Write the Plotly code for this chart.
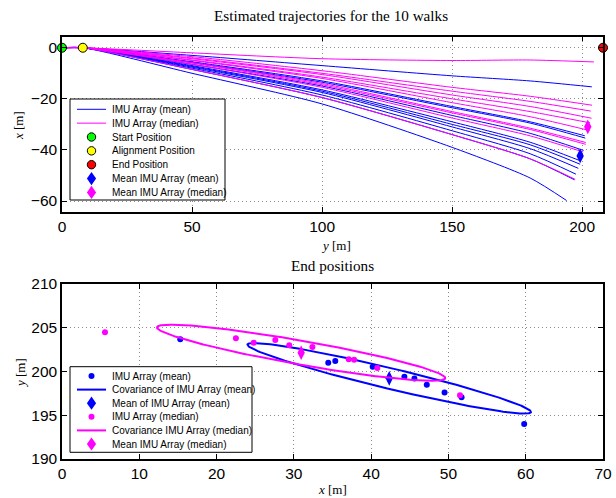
import numpy as np
import plotly.graph_objects as go

# ---------------- data ----------------
# End positions (bottom plot): x = lateral [m] (positive), y = forward [m]
mean_end_x = [15.3, 34.45, 35.36, 40.2, 44.3, 45.6, 47.2, 49.5, 51.7, 59.8]
mean_end_y = [203.7, 201.0, 201.2, 200.55, 199.4, 199.2, 198.5, 197.6, 197.05, 194.0]
median_end_x = [5.56, 22.5, 24.8, 27.6, 29.4, 32.4, 37.1, 37.8, 40.8, 51.5]
median_end_y = [204.5, 203.8, 203.3, 203.6, 203.0, 202.8, 201.4, 201.35, 200.4, 197.3]

# Trajectory waypoints (top plot): x [m] read at these y [m] positions, then the end point
way_y = [0, 8, 50, 100, 150, 180]
mean_way_x = [
    [0, 0, -3.0, -7.0, -11.0, -13.0],
    [0, 0, -5.5, -13.0, -23.0, -29.0],
    [0, 0, -5.8, -13.5, -23.5, -29.5],
    [0, 0, -6.5, -15.0, -26.5, -33.5],
    [0, 0, -7.0, -16.5, -29.0, -37.0],
    [0, 0, -7.3, -17.0, -30.0, -38.0],
    [0, 0, -7.6, -17.5, -31.0, -39.5],
    [0, 0, -8.0, -18.5, -32.5, -41.5],
    [0, 0, -8.5, -19.5, -34.0, -43.5],
    [0, 0, -10.0, -22.0, -39.0, -51.0],
]
median_way_x = [
    [0, 0, -2.0, -4.3, -5.0, -4.8],
    [0, 0, -3.5, -9.0, -15.5, -19.0],
    [0, 0, -4.0, -10.0, -17.0, -21.0],
    [0, 0, -4.3, -10.5, -18.5, -23.0],
    [0, 0, -4.8, -11.5, -20.0, -25.0],
    [0, 0, -5.0, -12.0, -21.5, -27.0],
    [0, 0, -5.8, -14.0, -25.0, -31.5],
    [0, 0, -6.0, -14.5, -25.5, -32.0],
    [0, 0, -6.5, -15.5, -27.5, -34.5],
    [0, 0, -8.5, -19.5, -34.0, -43.5],
]

start_pos = (0, 0)
align_pos = (8, 0)
end_pos = (208, 0)

top_xticks = [0, 50, 100, 150, 200]
top_yticks = [-60, -40, -20, 0]
bot_xticks = [0, 10, 20, 30, 40, 50, 60, 70]
bot_yticks = [190, 195, 200, 205, 210]

top_legend_labels = ["IMU Array (mean)", "IMU Array (median)", "Start Position",
                     "Alignment Position", "End Position", "Mean IMU Array (mean)",
                     "Mean IMU Array (median)"]
bot_legend_labels = ["IMU Array (mean)", "Covariance of IMU Array (mean)",
                     "Mean of IMU Array (mean)", "IMU Array (median)",
                     "Covariance IMU Array (median)", "Mean IMU Array (median)"]

BLUE = "#0000FF"
MAG = "#FF00FF"
GREEN = "#00FF00"
YELLOW = "#FFFF00"
RED = "#FF0000"
W, H = 616, 498
DIAMOND_SIZE = 10.5


def cov_ellipse(x, y, k=1.51, n=240):
    x = np.asarray(x, float)
    y = np.asarray(y, float)
    c = np.cov(x, y)
    w, v = np.linalg.eigh(c)
    t = np.linspace(0, 2 * np.pi, n)
    circ = np.vstack([np.cos(t), np.sin(t)])
    pts = v @ np.diag(np.sqrt(w)) @ circ * k
    return x.mean() + pts[0], y.mean() + pts[1]


fig = go.Figure()

# ---------------- top plot ----------------
for wx, ex, ey in zip(mean_way_x, mean_end_x, mean_end_y):
    fig.add_trace(go.Scatter(x=way_y + [ey], y=wx + [-ex], mode="lines",
                             line=dict(color=BLUE, width=1, shape="spline", smoothing=0.7),
                             name="IMU Array (mean)",
                             xaxis="x", yaxis="y", hoverinfo="skip"))
for wx, ex, ey in zip(median_way_x, median_end_x, median_end_y):
    fig.add_trace(go.Scatter(x=way_y + [ey], y=wx + [-ex], mode="lines",
                             line=dict(color=MAG, width=1, shape="spline", smoothing=0.7),
                             name="IMU Array (median)",
                             xaxis="x", yaxis="y", hoverinfo="skip"))

for pos, col, nm in [(start_pos, GREEN, "Start Position"),
                     (align_pos, YELLOW, "Alignment Position"),
                     (end_pos, RED, "End Position")]:
    fig.add_trace(go.Scatter(x=[pos[0]], y=[pos[1]], mode="markers", name=nm,
                             cliponaxis=False,
                             marker=dict(color=col, size=9, line=dict(color="black", width=1)),
                             xaxis="x", yaxis="y"))

fig.add_trace(go.Scatter(x=[np.mean(mean_end_y)], y=[-np.mean(mean_end_x)], mode="markers",
                         name="Mean IMU Array (mean)", cliponaxis=False,
                         marker=dict(color=BLUE, size=DIAMOND_SIZE, symbol="diamond-tall"),
                         xaxis="x", yaxis="y"))
fig.add_trace(go.Scatter(x=[np.mean(median_end_y)], y=[-np.mean(median_end_x)], mode="markers",
                         name="Mean IMU Array (median)", cliponaxis=False,
                         marker=dict(color=MAG, size=DIAMOND_SIZE, symbol="diamond-tall"),
                         xaxis="x", yaxis="y"))

# ---------------- bottom plot ----------------
ex_m, ey_m = cov_ellipse(mean_end_x, mean_end_y)
ex_d, ey_d = cov_ellipse(median_end_x, median_end_y)

fig.add_trace(go.Scatter(x=mean_end_x, y=mean_end_y, mode="markers", name="IMU Array (mean)",
                         marker=dict(color=BLUE, size=6), xaxis="x2", yaxis="y2"))
fig.add_trace(go.Scatter(x=ex_m, y=ey_m, mode="lines", name="Covariance of IMU Array (mean)",
                         line=dict(color=BLUE, width=2), xaxis="x2", yaxis="y2"))
fig.add_trace(go.Scatter(x=[np.mean(mean_end_x)], y=[np.mean(mean_end_y)], mode="markers",
                         name="Mean of IMU Array (mean)",
                         marker=dict(color=BLUE, size=DIAMOND_SIZE, symbol="diamond-tall"),
                         xaxis="x2", yaxis="y2"))
fig.add_trace(go.Scatter(x=median_end_x, y=median_end_y, mode="markers", name="IMU Array (median)",
                         marker=dict(color=MAG, size=6), xaxis="x2", yaxis="y2"))
fig.add_trace(go.Scatter(x=ex_d, y=ey_d, mode="lines", name="Covariance IMU Array (median)",
                         line=dict(color=MAG, width=2), xaxis="x2", yaxis="y2"))
fig.add_trace(go.Scatter(x=[np.mean(median_end_x)], y=[np.mean(median_end_y)], mode="markers",
                         name="Mean IMU Array (median)",
                         marker=dict(color=MAG, size=DIAMOND_SIZE, symbol="diamond-tall"),
                         xaxis="x2", yaxis="y2"))

# ---------------- MATLAB-style legends (drawn as shapes + text) ----------------
def PX(px):
    return px / W


def PY(py):
    return 1 - py / H


shapes = []
annotations = []
legend_font = dict(family="Liberation Sans, Arial", size=10, color="black")


def legend_box(x0, y0, x1, y1):
    shapes.append(dict(type="rect", xref="paper", yref="paper", layer="above",
                       x0=PX(x0), x1=PX(x1), y0=PY(y1), y1=PY(y0),
                       fillcolor="white", line=dict(color="black", width=1)))


def sample_line(cy, color, width):
    shapes.append(dict(type="line", xref="paper", yref="paper", layer="above",
                       x0=PX(77), x1=PX(106), y0=PY(cy), y1=PY(cy),
                       line=dict(color=color, width=width)))


def sample_circle(cy, color, r, edge=None):
    shapes.append(dict(type="circle", xref="paper", yref="paper", layer="above",
                       x0=PX(91.5 - r), x1=PX(91.5 + r), y0=PY(cy + r), y1=PY(cy - r),
                       fillcolor=color,
                       line=dict(color=edge if edge else color, width=1 if edge else 0)))


def sample_diamond(cy, color, hw=4.6, hh=6.6):
    cx = 91.5
    path = (f"M{PX(cx)},{PY(cy - hh)} L{PX(cx + hw)},{PY(cy)} "
            f"L{PX(cx)},{PY(cy + hh)} L{PX(cx - hw)},{PY(cy)} Z")
    shapes.append(dict(type="path", xref="paper", yref="paper", layer="above",
                       path=path, fillcolor=color, line=dict(color=color, width=0)))


def legend_text(cy, txt):
    annotations.append(dict(text=txt, x=PX(110), y=PY(cy), xref="paper", yref="paper",
                            xanchor="left", yanchor="middle", showarrow=False,
                            font=legend_font))


# top legend
legend_box(70, 99, 225, 200)
rows1 = [109.3 + i * 13.85 for i in range(len(top_legend_labels))]
sample_line(rows1[0], BLUE, 1)
sample_line(rows1[1], MAG, 1)
sample_circle(rows1[2], GREEN, 4.2, "black")
sample_circle(rows1[3], YELLOW, 4.2, "black")
sample_circle(rows1[4], RED, 4.2, "black")
sample_diamond(rows1[5], BLUE)
sample_diamond(rows1[6], MAG)
for cy, t in zip(rows1, top_legend_labels):
    legend_text(cy, t)

# bottom legend
legend_box(70, 366.7, 252, 452.3)
rows2 = [376.0 + i * 13.6 for i in range(len(bot_legend_labels))]
sample_circle(rows2[0], BLUE, 3)
sample_line(rows2[1], BLUE, 2)
sample_diamond(rows2[2], BLUE)
sample_circle(rows2[3], MAG, 3)
sample_line(rows2[4], MAG, 2)
sample_diamond(rows2[5], MAG)
for cy, t in zip(rows2, bot_legend_labels):
    legend_text(cy, t)

# ---------------- titles and axis labels ----------------
serif = "Liberation Serif, Times New Roman"
for txt, x, y, ang, sz in [
    ("Estimated trajectories for the 10 walks", 331, 15, 0, 15.2),
    ("End positions", 332, 265, 0, 15.2),
    ("<i>y</i> [m]", 336, 246, 0, 13),
    ("<i>x</i> [m]", 18, 126, -90, 13),
    ("<i>y</i> [m]", 20, 373, -90, 13),
    ("<i>x</i> [m]", 332, 489, 0, 13),
]:
    annotations.append(dict(text=txt, x=PX(x), y=PY(y), xref="paper", yref="paper",
                            showarrow=False, xanchor="center", yanchor="middle",
                            textangle=ang, font=dict(family=serif, size=sz, color="black")))

# ---------------- layout ----------------
xdom = [62 / W, 603 / W]
top_dom = [1 - 212 / H, 1 - 36.5 / H]
bot_dom = [1 - 459 / H, 1 - 284 / H]

tickfont = dict(family="Liberation Sans, Arial", size=15.5, color="black")
common = dict(showline=True, linecolor="black", linewidth=1.5, mirror="ticks",
              ticks="inside", ticklen=5, tickcolor="black", tickwidth=1,
              showgrid=True, gridcolor="#8c8c8c", griddash="1px,3px", gridwidth=1,
              zeroline=False, tickfont=tickfont, automargin=False)

fig.update_layout(
    width=W, height=H, margin=dict(l=0, r=0, t=0, b=0, autoexpand=False),
    paper_bgcolor="white", plot_bgcolor="white", showlegend=False,
    xaxis=dict(domain=xdom, anchor="y", range=[0, 208], tickvals=top_xticks, **common),
    yaxis=dict(domain=top_dom, anchor="x", range=[-64.3, 4.4], tickvals=top_yticks, **common),
    xaxis2=dict(domain=xdom, anchor="y2", range=[0, 70], tickvals=bot_xticks, **common),
    yaxis2=dict(domain=bot_dom, anchor="x2", range=[190, 210], tickvals=bot_yticks, **common),
    shapes=shapes,
    annotations=annotations,
)

fig.write_html("out.html", config={"displayModeBar": False},
               post_script="document.body.style.margin='0px';")
